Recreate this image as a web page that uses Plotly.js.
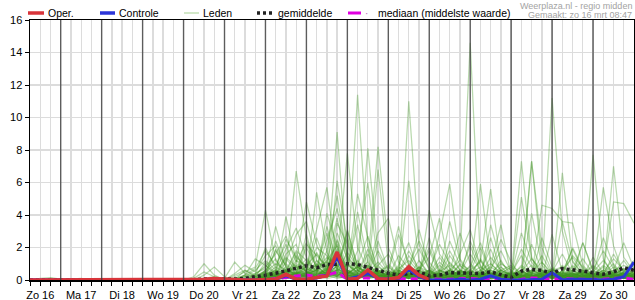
<!DOCTYPE html>
<html><head><meta charset="utf-8">
<script src="https://cdn.plot.ly/plotly-3.0.1.min.js"></script>
<style>html,body{margin:0;padding:0;background:#fff}#chart{width:635px;height:300px}</style>
</head><body><div id="chart"></div>
<script>
// ---- data (6-hourly precipitation, mm) ----
const startTime = Date.UTC(2025, 2, 16, 6); // first 6-hourly step: zo 16 mrt 06:00
const stepCount = 60;
const dayLabels = ['Zo 16','Ma 17','Di 18','Wo 19','Do 20','Vr 21','Za 22','Zo 23','Ma 24','Di 25','Wo 26','Do 27','Vr 28','Za 29','Zo 30'];
const dayNoons = ['2025-03-16 12:00','2025-03-17 12:00','2025-03-18 12:00','2025-03-19 12:00','2025-03-20 12:00','2025-03-21 12:00','2025-03-22 12:00','2025-03-23 12:00','2025-03-24 12:00','2025-03-25 12:00','2025-03-26 12:00','2025-03-27 12:00','2025-03-28 12:00','2025-03-29 12:00','2025-03-30 12:00'];
const dayBounds = ['2025-03-17','2025-03-18','2025-03-19','2025-03-20','2025-03-21','2025-03-22','2025-03-23','2025-03-24','2025-03-25','2025-03-26','2025-03-27','2025-03-28','2025-03-29','2025-03-30'];

const oper = [0,0,0,0,0,0,0,0,0,0,0,0,0,0,0,0,0,0.05,0.1,0.05,0,0,0,0,0.05,0.35,0.05,0.05,0.15,0.25,1.72,0.05,0.1,0.62,0.08,0.05,0.15,0.82,0.3,0.03];
const controle = [0,0,0,0,0,0,0,0,0,0,0,0,0,0,0,0,0,0.03,0.05,0.03,0,0,0,0,0.05,0.25,0.05,0.05,0.12,0.3,1.42,0.05,0.2,0.4,0.1,0.05,0.1,0.65,0.2,0.02,0,0,0.05,0,0.05,0.25,0.05,0,0,0.02,0.05,0.45,0.02,0.05,0.05,0.03,0,0.05,0.2,1.1];
const gemiddelde = [0,0.02,0.03,0.01,0.02,0.01,0,0,0,0,0,0,0,0,0,0.01,0.02,0.06,0.05,0.03,0.06,0.1,0.18,0.3,0.42,0.55,0.72,0.88,0.75,0.95,1.0,1.0,0.95,0.8,0.6,0.42,0.3,0.4,0.5,0.25,0.3,0.45,0.45,0.45,0.4,0.5,0.35,0.15,0.55,0.65,0.6,0.4,0.7,0.65,0.55,0.45,0.35,0.5,0.75,0.6];
const mediaan = [0,0,0,0,0,0,0,0,0,0,0,0,0,0,0,0,0,0,0,0,0,0,0,0,0.1,0.15,0.25,0.3,0.22,0.3,0.48,0.05,0.1,0.13,0.05,0.1,0.1,0.05,0.08,0.05,0.05,0.05,0.08,0.1,0.05,0.1,0.05,0,0.05,0.12,0.1,0.05,0.08,0.05,0.05,0.05,0.05,0.1,0.12,0.05];

const leden = [
[0,0.1,0.15,0.05,0,0,0,0,0,0,0,0,0,0,0, 0,0.2,1.0,0.3, 0,0.2,0.5,0.8, 4.3,1.2,0.5,0.8, 0.3,0.6,1.2,2.1, 0.4,0.2,0.8,0.3, 0.1,0.4,1.5,0.6, 0.2,0,0.3,0.9, 0.4,1.2,0.3,0, 0,0.2,0.5,1.1, 0.3,0.1,0,0.4, 0.8,0.3,0.1,0.2, 0.5],
[0,0,0.1,0.05,0.05,0.1,0,0,0,0,0,0,0,0,0, 0,0.1,0.5,0.2, 0.1,1.1,0.4,0.2, 0.6,3.3,1.0,0.4, 2.2,1.5,0.8,9.1, 1.0,0.3,0.1,0.5, 0.2,0,0.3,0.1, 0,0.5,1.8,0.6, 0.2,0,0,0.4, 0.8,0.3,0.1,0, 0,0.6,1.4,0.5, 0.2,0,0.3,0.7, 0.4],
[0,0,0,0,0.08,0.05,0,0,0,0,0,0,0,0,0, 0,0,0.3,0.8, 0.2,0,0.3,1.3, 0.9,0.4,3.9,1.2, 0.5,0.2,0.4,1.1, 7.8,2.0,0.6,0.2, 0,0.3,0.9,2.4, 1.1,0.3,0,0.2, 0.6,0.2,0.9,3.4, 0.3,0,0.2,0.6, 0.2,0.1,0.8,0.3, 0,0.4,1.0,0.2, 0.1],
[0,0,0,0,0,0,0,0,0,0,0,0,0,0,0, 0,0,0,0, 0,0.4,0.9,0.5, 1.5,2.1,0.8,6.7, 2.5,0.9,0.3,0.6, 0.9,11.4,2.1,0.4, 0.1,0,0.2,0.6, 0.3,0.9,0.4,0.1, 0,0.2,0.6,0.3, 0.1,7.3,1.4,0.3, 0.6,0.3,0.1,0, 0.2,0.6,0.3,0.1, 0],
[0,0,0,0,0,0,0,0,0,0,0,0,0,0,0, 0,0,0.1,0.2, 0,0,0.6,0.3, 2.0,0.7,2.5,1.4, 0.8,3.1,5.7,1.2, 0.4,0.8,0.3,0.1, 0,0.1,0.5,0.2, 4.3,1.6,0.7,0.3, 0.1,0.5,0.2,0.8, 0.2,0.3,0.1,0.4, 11.2,3.0,0.6,0.1, 0.3,0.2,0,0.5, 0.9],
[0,0,0,0,0,0,0,0,0,0,0,0,0,0,0, 0,0,0,0, 0,0.1,0.2,0.4, 0.7,0.3,1.1,2.8, 3.6,1.2,0.6,2.5, 0.9,0.5,8.1,1.6, 0.4,0.2,0.1,0, 0.2,0.1,0.6,1.2, 14.6,1.2,0.3,0.1, 0,0.2,0.4,0.2, 0.6,0.4,1.5,0.8, 0.3,0.1,0.2,0.3, 0.1],
[0,0,0,0,0,0,0,0,0,0,0,0,0,0,0, 0,0,0,0, 0,0,0.1,0.3, 0.5,1.0,0.6,1.8, 1.2,0.5,2.4,4.4, 1.5,0.6,1.1,8.2, 2.0,0.5,0.2,0.1, 0,0.2,0.1,0.4, 0.8,2.3,0.5,0.2, 0.4,0.1,0,0.3, 0.7,0.2,0.5,2.3, 0.6,0.3,0.8,0.4, 0.2],
[0,0,0,0,0,0,0,0,0,0,0,0,0,0,0, 0,0,0,0, 0,0,0,0.2, 1.1,0.4,0.3,0.9, 0.6,2.0,1.5,0.7, 0.3,1.8,6.0,0.9, 0.3,0.7,1.2,0.5, 0.1,0,0.2,0.5, 2.1,0.6,1.0,0.4, 0.1,5.1,1.3,0.6, 0.2,0,0.1,0.2, 0.5,1.2,0.4,0.1, 0.3],
[0,0,0,0,0,0,0,0,0,0,0,0,0,0,0, 0,0,0,0, 0,0,0.3,0.7, 1.8,0.9,2.2,0.5, 0.3,0.8,0.4,2.9, 1.3,0.4,0.2,6.8, 1.0,0.3,0.6,0.2, 0.4,1.4,0.5,0.2, 0.3,0.1,0.7,1.8, 0.5,0.2,0.6,0.3, 0.1,0.6,0.3,0.1, 7.7,1.3,0.3,0.1, 0],
[0,0,0,0,0,0,0,0,0,0,0,0,0,0,0, 0,0,0,0, 0,0.1,0,0.1, 0.3,0.6,0.4,1.2, 0.9,1.6,0.8,0.4, 0.3,0.9,2.7,0.6, 0.2,0.1,11.0,2.2, 0.6,0.1,0,0.3, 0.5,0.2,0.1,0.6, 0.9,0.4,7.3,1.1, 0.4,0.1,0.3,0.6, 0.2,0,0.1,0.4, 0.8],
[0,0,0,0,0,0,0,0,0,0,0,0,0,0,0, 0,0,0,0, 0,0,0,0, 0.4,0.2,0.6,0.3, 1.1,0.4,0.3,3.5, 2.2,0.7,0.3,0.5, 0.9,0.2,0.4,0.1, 0.3,2.8,5.9,1.3, 0.4,0.2,0.1,0, 0.2,0.6,0.2,4.6, 4.4,3.6,3.5,0.9, 0.3,0.2,0.5,0.1, 0.2],
[0,0,0,0,0,0,0,0,0,0,0,0,0,0,0, 0,0,0,0, 0,0,0.1,0, 0.2,0.5,1.4,0.8, 0.4,0.2,0.9,1.7, 0.5,4.2,1.1,0.2, 0.1,0.3,0.8,1.9, 0.7,0.2,0.4,0.2, 0.6,1.1,5.6,0.8, 0.3,0.1,0.2,0.5, 0.2,6.6,1.2,0.3, 0.1,0.5,1.3,0.6, 0.3],
[0,0,0,0,0,0,0,0,0,0,0,0,0,0,0, 0,0,0,0, 0,0,0,0.1, 0.6,1.3,0.2,0.4, 0.2,0.7,3.3,1.0, 0.6,0.3,0.1,0.4, 0.2,1.5,0.7,0.3, 2.6,0.4,0.2,0.1, 0.2,0.6,0.3,1.2, 0.2,0.5,1.3,0.4, 0.1,0.3,0.1,0.2, 0.4,5.7,2.1,0.3, 0.2],
[0,0,0,0,0,0,0,0,0,0,0,0,0,0,0, 0,0,0,0, 0,0,0,0, 0.1,0.3,0.5,1.0, 0.7,0.4,1.8,5.2, 1.4,0.6,0.2,0.1, 0.3,0.1,0.3,0.8, 0.5,0.2,1.1,0.4, 1.6,0.6,0.2,0.1, 0.1,0.4,0.9,0.3, 0.6,0.8,0.3,0.5, 0.2,0.4,7.0,1.4, 0.5],
[0,0,0,0,0,0,0,0,0,0,0,0,0,0,0, 0,0,0,0, 0,0,0.2,0.1, 0.3,0.1,0.7,0.4, 0.1,0.3,0.5,0.6, 3.1,0.8,0.4,2.4, 0.6,0.2,0.5,0.3, 0.1,0.4,0.2,0.6, 0.3,0.1,0.4,0.2, 0.1,0.2,7.3,2.0, 0.5,0.2,0.1,0.2, 0.4,0.1,0.3,0.7, 0.4],
[0,0,0,0,0,0,0,0,0,0,0,0,0,0,0, 0,0,0,0, 0,0,0,0, 0,0.2,0.1,0.5, 0.4,1.0,0.5,2.2, 0.6,0.2,0.9,0.5, 0.1,0.6,0.3,0.1, 0.2,0.1,0.3,1.6, 3.1,0.8,0.3,0.1, 0,0.3,0.2,0.4, 0.7,0.2,0.5,0.1, 0.3,0.6,4.8,4.7, 3.5],
[0,0,0,0,0,0,0,0,0,0,0,0,0,0,0, 0,0,0,0, 0,0,0,0, 0.2,0.4,0.3,0.1, 0.3,0.1,0.6,1.4, 0.4,0.8,0.3,0.2, 0.5,2.8,1.0,0.3, 0.1,0.2,0.1,0.3, 0.4,0.2,0.6,0.3, 0.2,0.1,0.4,0.2, 0.2,3.6,1.1,0.4, 0.2,0.1,0.3,0.2, 0.1],
[0,0,0,0,0,0,0,0,0,0,0,0,0,0,0, 0,0,0,0, 0,0,0,0.2, 0.4,0.1,0.2,0.6, 1.3,0.5,0.2,0.9, 0.3,0.1,0.5,1.1, 0.4,0.2,0.1,0.3, 0.2,0.6,0.3,0.2, 0.1,0.3,1.4,0.6, 0.3,0.8,0.3,0.1, 0.2,0.4,0.2,2.3, 0.5,0.2,0.1,0.3, 0.6],
[0,0,0,0,0,0,0,0,0,0,0,0,0,0,0, 0,0,0,0, 0,0,0,0, 0.1,0,0.3,0.2, 0.5,0.3,0.2,0.6, 0.2,0.6,0.2,0.4, 0.1,0.1,0.4,0.2, 0.3,0.1,0.2,0.1, 0.2,0.4,0.2,0.3, 0.1,0.3,0.2,0.1, 0.3,0.1,0.4,0.2, 0.1,0.3,0.2,0.5, 0.3],
[0,0,0,0,0,0,0,0,0,0,0,0,0,0,0, 0,0,0,0, 0,0,0,0, 0.2,0.5,0.3,0.8, 0.6,0.9,1.1,0.5, 0.3,0.2,0.3,0.6, 0.2,0.4,0.2,0.1, 0.6,0.3,0.5,0.2, 0.1,0.5,0.3,0.2, 0.3,0.2,0.5,0.6, 0.3,0.2,0.6,0.3, 0.2,0.4,0.3,0.2, 0.1],
[0,0,0,0,0,0,0,0,0,0,0,0,0,0,0, 0,0,0,0, 0,0,0,0.4, 0.8,1.6,2.7,1.1, 4.8,2.2,0.6,1.8, 0.5,0.3,0.2,0.3, 0.2,0.9,2.3,0.4, 0.1,0.3,0.6,0.2, 0.9,0.3,0.1,0.2, 0.4,1.5,0.3,0.2, 0.1,0.3,0.2,0.1, 0.6,0.2,0.4,1.2, 0.3],
[0,0,0,0,0,0,0,0,0,0,0,0,0,0,0, 0,0,0,0, 0,0,0,0, 0.3,2.4,0.8,0.3, 0.2,5.4,1.7,0.6, 3.0,0.9,0.4,0.8, 0.4,0.2,0.1,0.6, 1.4,3.8,0.7,0.2, 0.1,0.4,0.2,0.6, 0.3,0.1,0.3,0.2, 0.5,0.2,0.9,0.3, 0.2,0.1,0.2,0.4, 0.2],
[0,0,0,0,0,0,0,0,0,0,0,0,0,0,0, 0,0,0,0, 0,0,0,0, 0.5,0.2,1.6,2.2, 0.4,0.9,0.3,6.1, 2.4,0.6,0.3,0.1, 0.2,0.6,0.3,0.2, 0.4,0.2,2.4,0.9, 0.3,5.9,1.0,0.4, 0.1,0.2,0.6,0.3, 0.4,0.1,0.2,0.5, 0.3,0.8,0.2,0.1, 0.2],
[0,0,0,0,0,0,0,0,0,0,0,0,0,0,0, 0,0,0,0, 0,0,0,0, 0.2,0.6,0.4,0.2, 0.9,0.3,4.1,2.0, 0.7,5.3,2.6,0.4, 0.3,0.1,0.2,0.4, 0.6,0.2,0.1,0.4, 0.2,0.3,0.4,1.0, 0.6,0.2,0.1,0.5, 0.2,0.4,0.3,0.1, 0.4,2.6,0.9,0.2, 0.3],
[0,0,0,0,0,0,0,0,0,0,0,0,0,0,0, 0,0,0,0, 0,0,0,0.1, 0.2,0.1,0.5,0.7, 0.3,0.6,0.4,0.2, 1.0,0.4,0.6,2.9, 3.8,1.1,0.4,0.2, 0.3,0.1,0.2,0.6, 0.4,0.2,2.6,0.5, 0.2,0.4,0.2,0.1, 0.3,0.2,0.1,0.4, 0.9,0.4,0.1,0.3, 0.4],
[0,0,0,0,0,0,0,0,0,0,0,0,0,0,0, 0,0,0,0, 0,0,0,0, 0.1,0.3,0.2,0.4, 0.6,0.2,0.7,0.4, 1.7,0.8,0.5,0.2, 0.1,0.3,0.6,3.1, 0.8,0.3,0.4,0.2, 0.5,2.0,0.4,0.2, 0.1,0.3,4.1,0.9, 0.3,0.2,0.4,0.2, 0.1,0.3,0.6,2.3, 0.7],
[0,0,0,0,0,0,0,0,0,0,0,0,0,0,0, 0,0,0,0, 0,0,0,0, 0.4,0.2,0.1,0.3, 0.2,1.2,0.5,0.3, 0.5,0.3,0.9,0.4, 0.2,0.4,6.1,1.2, 0.3,0.1,0.2,0.3, 0.1,0.4,0.2,0.3, 0.3,2.9,1.1,0.3, 0.2,0.4,0.1,0.3, 0.4,0.2,0.3,0.1, 0.2],
[0,0,0,0,0,0,0,0,0,0,0,0,0,0,0, 0,0,0,0, 0,0,0,0, 0.1,0.2,0.6,0.3, 0.4,0.2,0.5,0.8, 0.2,0.4,0.3,0.6, 0.4,0.2,0.3,0.2, 0.2,0.5,3.6,1.2, 0.3,0.1,0.4,0.2, 0.2,0.1,0.3,0.4, 0.3,0.5,1.9,0.6, 0.2,0.3,0.1,0.2, 0.1],
[0,0,0,0,0,0,0,0,0,0,0,0,0,0,0, 0,0,0,0, 0,0,0,0, 0.3,0.4,0.2,1.5, 0.7,0.3,0.2,0.5, 0.3,0.2,0.4,0.3, 0.2,0.1,0.3,0.5, 0.2,0.3,0.2,0.1, 0.3,0.2,3.4,1.1, 0.4,0.2,0.1,0.3, 0.2,0.1,0.3,0.4, 0.2,0.5,0.3,0.2, 0.1],
[0,0,0,0,0,0,0,0,0,0,0,0,0,0,0, 0,0,0,0, 0,0,0,0, 0.5,0.3,0.8,0.2, 0.3,0.4,0.6,0.3, 0.5,0.2,0.1,0.2, 0.4,0.6,0.3,0.1, 0.2,0.1,0.4,0.2, 0.6,0.3,0.2,0.1, 0.2,0.4,0.3,0.2, 0.1,0.3,0.2,0.3, 0.3,0.2,0.4,0.6, 0.3],
[0,0,0,0,0,0,0,0,0,0,0,0,0,0,0, 0,0,0,0, 0,0,0,0, 0.2,1.9,0.5,0.4, 0.3,0.2,0.8,1.3, 0.4,0.3,0.2,0.5, 0.3,0.2,0.4,0.7, 2.0,0.6,0.3,0.1, 0.2,0.3,0.2,0.4, 0.1,0.2,0.3,0.2, 0.4,0.3,0.2,0.1, 0.3,0.2,0.4,0.3, 0.5],
[0,0,0,0,0,0,0,0,0,0,0,0,0,0,0, 0,0,0,0, 0,0,0,0, 0.3,0.1,0.3,0.5, 0.2,0.4,0.3,0.6, 0.6,0.4,1.9,0.3, 0.1,0.2,0.1,0.3, 0.5,0.2,0.3,0.6, 0.2,0.1,0.2,0.5, 0.3,0.6,0.2,0.1, 2.8,0.5,0.2,0.3, 0.1,0.2,0.3,0.4, 0.2],
[0,0,0,0,0,0,0,0,0,0,0,0,0,0,0, 0,0,0,0, 0,0,0,0, 0.2,0.3,0.1,0.2, 0.3,0.2,0.4,0.2, 0.1,0.3,0.2,0.4, 0.6,0.3,0.2,0.4, 0.2,0.4,0.1,0.3, 0.4,0.2,0.3,0.1, 0.2,0.5,0.2,0.3, 0.1,0.2,0.1,0.6, 0.3,0.1,0.2,0.1, 0.1],
[0,0,0,0,0,0,0,0,0,0,0,0,0,0,0, 0,0,0,0, 0,0,0,0, 0.1,0.2,0.3,0.1, 0.2,0.5,0.3,0.4, 0.2,0.1,0.3,0.2, 0.3,0.5,0.2,0.1, 0.3,0.2,0.1,0.4, 0.2,0.3,0.5,0.2, 0.1,0.2,0.1,0.2, 0.3,0.2,0.4,0.2, 0.2,0.1,0.1,0.3, 0.2],
[0,0,0,0,0,0,0,0,0,0,0,0,0,0,0, 0,0,0,0, 0,0,0,0, 0.6,0.2,0.4,0.3, 2.8,0.6,0.2,0.4, 0.3,0.2,0.5,0.3, 0.2,0.3,0.1,0.2, 0.1,0.3,0.2,0.5, 0.3,0.2,0.1,0.2, 0.2,0.3,0.5,0.2, 0.2,0.1,0.3,0.2, 0.4,0.2,0.1,0.2, 0.3],
[0,0,0,0,0,0,0,0,0,0,0,0,0,0,0, 0,0,0,0, 0,0,0,0, 0.1,0.2,0.1,0.3, 0.5,0.3,0.2,0.3, 0.4,0.2,0.3,0.1, 0.2,0.1,0.2,0.3, 0.4,0.2,0.3,0.1, 0.2,0.4,0.2,0.3, 0.2,0.1,0.2,0.4, 0.1,0.3,0.2,0.1, 0.2,0.3,0.2,0.1, 0.2],
[0,0,0,0,0,0,0,0,0,0,0,0,0,0,0, 0,0,0,0, 0,0,0,0, 0,0.1,0.2,0.1, 0.3,0.2,0.1,0.2, 0.1,0.2,0.4,0.2, 0.1,0.3,0.2,0.1, 0.2,0.1,0.2,0.3, 0.1,0.2,0.3,0.1, 0.1,0.3,0.2,0.1, 0.2,0.1,0.2,0.3, 0.1,0.2,0.1,0.2, 0.1],
[0,0,0,0,0,0,0,0,0,0,0,0,0,0,0, 0,0,0,0, 0,0,0,0, 0.2,0.1,0.2,0.4, 0.2,0.3,0.6,0.2, 0.3,0.1,0.2,0.3, 0.2,0.4,0.1,0.2, 0.1,0.2,0.6,0.3, 0.2,0.1,0.2,0.3, 0.4,0.2,0.1,0.2, 0.3,0.2,0.1,0.2, 0.2,0.4,0.2,0.3, 0.2],
[0,0,0,0,0,0,0,0,0,0,0,0,0,0,0, 0,0,0,0, 0,0,0,0, 0.1,0,0.1,0.2, 0.1,0.2,0.3,0.1, 0.2,0.3,0.1,0.2, 0.1,0.2,0.3,0.2, 0.2,0.3,0.2,0.1, 0.3,0.1,0.2,0.2, 0.1,0.2,0.3,0.1, 0.2,0.1,0.3,0.1, 0.2,0.1,0.3,0.2, 0.1],
[0,0,0,0,0,0,0,0,0,0,0,0,0,0,0, 0,0,0,0, 0,0,0,0, 0.1,0.3,0.2,0.1, 0.4,0.1,0.2,0.3, 0.2,0.1,0.3,0.4, 0.2,0.1,0.2,0.3, 0.1,0.4,0.2,0.1, 0.2,0.3,0.1,0.2, 0.3,0.1,0.2,0.3, 0.1,0.2,0.4,0.2, 0.3,0.2,0.2,0.4, 0.2],
[0,0,0,0,0,0,0,0,0,0,0,0,0,0,0, 0,0,0,0, 0,0.3,0.6,0.2, 0.5,1.8,0.9,0.4, 0.6,2.6,0.9,1.5, 0.8,3.4,0.6,0.3, 0.2,0.5,1.8,0.7, 0.3,1.1,0.5,2.9, 1.0,0.4,0.2,0.6, 0.3,1.9,0.8,0.2, 0.5,1.6,0.4,0.2, 0.6,1.8,0.7,0.3, 0.5],
[0,0,0,0,0,0,0,0,0,0,0,0,0,0,0, 0,0,0,0, 0,0,0.2,0.6, 1.2,0.6,1.9,3.2, 1.4,0.5,1.1,3.8, 1.1,0.4,1.6,0.5, 0.8,0.3,0.2,1.2, 0.4,0.2,0.5,0.3, 2.4,0.9,0.3,0.2, 0.5,0.3,2.2,0.6, 0.2,0.9,0.3,0.4, 0.2,0.3,1.6,0.5, 1.2],
[0,0,0,0,0,0,0,0,0,0,0,0,0,0,0, 0,0,0,0, 0,0,0,0.1, 0.3,0.8,0.4,0.2, 2.0,0.8,2.9,0.6, 0.3,1.2,0.4,1.8, 0.6,3.3,0.8,0.3, 0.1,0.5,0.9,0.4, 0.2,0.6,1.9,0.4, 0.1,0.5,0.3,2.6, 0.8,0.3,0.6,0.2, 1.4,0.4,0.2,0.3, 0.2],
[0,0,0,0,0,0,0,0,0,0,0,0,0,0,0, 0,0,0,0, 0,0,0,0, 0.2,0.4,1.3,0.6, 0.3,1.7,0.6,2.4, 0.6,0.3,0.2,0.9, 1.6,0.4,0.3,0.2, 0.6,2.2,1.0,0.5, 0.4,0.2,0.6,2.5, 1.1,0.2,0.4,0.3, 0.6,0.3,2.0,0.7, 0.3,0.9,0.4,0.2, 0.4],
[0,0,0,0,0,0,0,0,0,0,0,0,0,0,0, 0,0,0,0, 0,0,0,0.3, 0.9,0.3,0.5,1.7, 0.4,0.6,1.4,0.8, 2.6,0.9,0.3,0.6, 0.2,0.8,0.4,0.6, 1.8,0.4,0.2,1.0, 0.6,0.3,0.2,0.4, 0.2,0.9,0.4,1.5, 0.4,0.2,0.5,1.3, 0.4,0.3,0.6,0.9, 0.6],
[0,0,0,0,0,0,0,0,0,0,0,0,0,0,0, 0,0,0,0, 0,0,0,0, 0.1,0.2,0.4,0.9, 0.5,0.3,0.7,1.9, 0.4,0.8,0.4,0.2, 0.3,0.2,0.6,0.4, 0.2,0.3,1.5,0.6, 0.4,0.8,0.3,0.2, 0.3,0.6,0.2,0.4, 0.5,0.3,0.4,0.2, 0.3,0.4,0.2,0.5, 0.3],
[0,0,0,0,0,0,0,0,0,0,0,0,0,0,0, 0,0,0,0, 0,0.1,0.3,0.2, 0.4,0.3,0.6,0.4, 0.8,0.4,0.3,0.9, 0.5,0.2,0.7,0.3, 0.2,0.5,0.3,0.8, 0.3,0.6,0.4,0.2, 0.5,0.3,0.8,0.4, 0.2,0.4,0.6,0.3, 0.3,0.5,0.2,0.6, 0.2,0.3,0.5,0.4, 0.2],
[0,0,0,0,0,0,0,0,0,0,0,0,0,0,0, 0,0,0,0, 0,0,0,0, 0.3,0.6,0.2,1.1, 2.3,0.7,0.4,0.5, 0.4,0.6,0.3,0.5, 0.3,0.2,0.5,0.3, 0.6,0.2,0.3,0.5, 0.3,1.3,0.4,0.2, 0.4,0.3,0.5,0.2, 0.6,0.4,0.3,0.5, 0.2,0.6,0.3,0.4, 0.3],
[0,0,0,0,0,0,0,0,0,0,0,0,0,0,0, 0,0,0,0, 0,0,0,0, 0.2,0.3,0.5,0.2, 0.4,0.6,0.3,0.7, 0.3,0.5,0.3,0.2, 0.5,0.3,0.2,0.6, 0.2,0.4,0.6,0.3, 0.2,0.5,0.3,0.6, 0.3,0.2,0.4,0.5, 0.2,0.4,0.6,0.3, 0.5,0.2,0.4,0.3, 0.2],
[0,0,0,0,0,0,0,0,0,0,0,0,0,0,0, 0,0,0,0, 0,0,0,0, 0.1,0.3,0.2,0.4, 0.3,0.2,0.5,0.3, 0.2,0.4,0.2,0.5, 0.3,0.2,0.4,0.2, 0.5,0.3,0.2,0.4, 0.3,0.2,0.4,0.3, 0.5,0.2,0.3,0.2, 0.3,0.5,0.2,0.4, 0.3,0.2,0.5,0.3, 0.4]
];

// ---- time axis (6-hourly steps) ----
function fmt(ms){ return new Date(ms).toISOString().slice(0,16).replace('T',' '); }
const times = [];
for (let i = 0; i < stepCount; i++) times.push(fmt(startTime + i*6*3600e3));

// ---- geometry helpers (pixels -> paper) ----
const W = 635, H = 300, M = {l:30, r:1, t:20, b:20};
const PW = W - M.l - M.r, PH = H - M.t - M.b;
const px = x => (x - M.l) / PW;
const py = y => (H - M.b - y) / PH;

const traces = [];
leden.forEach(m => traces.push({
  x: times, y: m, type: 'scatter', mode: 'lines', hoverinfo: 'skip',
  line: {color: 'rgba(60,150,30,0.36)', width: 1.25}
}));
traces.push({x: times, y: mediaan, type:'scatter', mode:'lines', line:{color:'#e000e0', width:3, dash:'7px,5px'}});
traces.push({x: times, y: gemiddelde, type:'scatter', mode:'lines', line:{color:'#222', width:3.5, dash:'3px,3px'}});
traces.push({x: times, y: controle, type:'scatter', mode:'lines', line:{color:'#2b35d8', width:3}});
traces.push({x: times.slice(0, oper.length), y: oper, type:'scatter', mode:'lines', line:{color:'#d8343a', width:3.5}});

const shapes = dayBounds.map(d => ({
  type:'line', xref:'x', yref:'paper', x0:d, x1:d, y0:0, y1:1, layer:'above',
  line:{color:'rgba(60,60,60,0.8)', width:1.4}
}));
const legendY = py(13);
function legLine(x0, x1, color, width, dash){
  shapes.push({type:'line', xref:'paper', yref:'paper', x0:px(x0), x1:px(x1), y0:legendY, y1:legendY,
    line:{color:color, width:width, dash:dash||'solid'}});
}
legLine(28, 44, '#d8343a', 3.5);
legLine(100, 115, '#2b35d8', 3.5);
legLine(184, 199, '#b4d9a4', 1.2);
legLine(257, 272, '#222', 3.5, '3px,3px');
legLine(348, 361, '#e000e0', 3);

const legFont = {family:'Liberation Sans, Arial, sans-serif', size:10.5, color:'#000'};
const annotations = [
  ['Oper.', 47], ['Controle', 118], ['Leden', 201.5], ['gemiddelde', 276.5], ['mediaan (middelste waarde)', 377]
].map(([t, x]) => ({text:t, xref:'paper', yref:'paper', x:px(x), y:legendY, xanchor:'left', yanchor:'middle',
  showarrow:false, font:legFont, borderpad:0}));
annotations.push({text:'·', xref:'paper', yref:'paper', x:px(366), y:legendY, xanchor:'center', yanchor:'middle',
  showarrow:false, font:{family:'Liberation Sans, Arial', size:10, color:'#bb66bb'}});
const grayFont = {family:'Liberation Sans, Arial, sans-serif', size:9, color:'#a3a3a3'};
annotations.push({text:'Weerplaza.nl - regio midden', xref:'paper', yref:'paper', x:px(633), y:py(6),
  xanchor:'right', yanchor:'middle', showarrow:false, font:grayFont, borderpad:0});
annotations.push({text:'Gemaakt: zo 16 mrt 08:47', xref:'paper', yref:'paper', x:px(633), y:py(15),
  xanchor:'right', yanchor:'middle', showarrow:false, font:grayFont, borderpad:0});

const layout = {
  width: W, height: H, margin: {l:M.l, r:M.r, t:M.t, b:M.b, pad:0},
  paper_bgcolor:'#fff', plot_bgcolor:'#fff', showlegend:false,
  font:{family:'Liberation Sans, Arial, sans-serif', size:11, color:'#000'},
  xaxis:{
    type:'date', range:[times[0], '2025-03-31 00:00'], fixedrange:true,
    tickmode:'array', tickvals: dayNoons, ticktext: dayLabels,
    ticks:'outside', ticklen:4, tickcolor:'#000', tickwidth:1,
    showgrid:true, gridcolor:'#dcdcdc', gridwidth:1.3,
    showline:true, linecolor:'#000', linewidth:1.5, mirror:true, zeroline:false,
    tickfont:{size:11, color:'#000'},
    minor:{dtick: 6*3600e3, tick0:'2025-03-16 00:00', ticks:'outside', ticklen:4, tickcolor:'#000',
      showgrid:true, gridcolor:'#dcdcdc', gridwidth:1.3}
  },
  yaxis:{
    range:[0,16], dtick:2, tick0:0, fixedrange:true,
    ticks:'outside', ticklen:4, tickcolor:'#000',
    showgrid:true, gridcolor:'#dcdcdc', gridwidth:1.3,
    showline:true, linecolor:'#000', linewidth:1.5, mirror:true, zeroline:false,
    tickfont:{size:11, color:'#000'}
  },
  shapes: shapes, annotations: annotations
};
Plotly.newPlot('chart', traces, layout, {staticPlot:true, displayModeBar:false});
</script></body></html>
